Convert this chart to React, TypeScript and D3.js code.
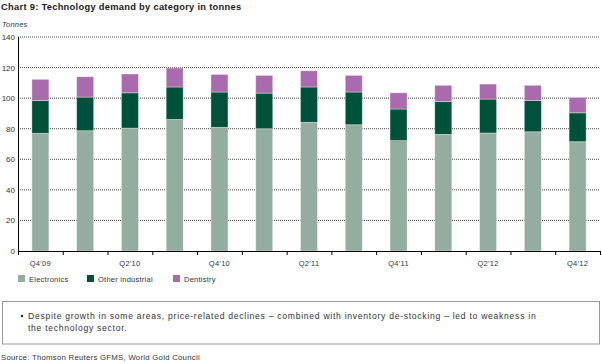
import * as d3 from "d3";

const quarters = ["Q4'09", "Q1'10", "Q2'10", "Q3'10", "Q4'10", "Q1'11", "Q2'11", "Q3'11", "Q4'11", "Q1'12", "Q2'12", "Q3'12", "Q4'12"];
const labelled = ["Q4'09", "Q2'10", "Q4'10", "Q2'11", "Q4'11", "Q2'12", "Q4'12"];
const electronics = [77.0, 78.7, 80.4, 86.1, 80.9, 80.0, 84.2, 82.6, 72.2, 76.3, 77.2, 78.0, 71.5];
const otherIndustrial = [21.5, 22.0, 23.1, 21.2, 23.1, 23.3, 23.1, 21.4, 20.7, 21.4, 22.2, 20.5, 18.9];
const dentistry = [13.8, 13.3, 12.3, 12.4, 11.5, 11.6, 10.6, 10.9, 10.6, 10.7, 9.8, 9.9, 10.1];
const seriesNames = ["Electronics", "Other industrial", "Dentistry"];
const colors = ["#93aea1", "#00513a", "#a96bad"];
const yTicks = [0, 20, 40, 60, 80, 100, 120, 140];

const FONT = "'Liberation Sans', Arial, sans-serif";

export default function App() {
  const W = 602, H = 364;
  const x = d3.scaleBand<string>().domain(quarters).range([18, 600]).paddingInner(0.62).paddingOuter(0.31);
  const y = d3.scaleLinear().domain([0, 140]).range([251, 37]);
  const rows = quarters.map((q, i) => ({ q, Electronics: electronics[i], "Other industrial": otherIndustrial[i], Dentistry: dentistry[i] }));
  const stacked = d3.stack<any>().keys(seriesNames)(rows);
  const step = x.step();
  const color = d3.scaleOrdinal<string, string>().domain(seriesNames).range(colors);
  const legendX = [18, 87, 173];

  return (
    <svg width={W} height={H} viewBox={`0 0 ${W} ${H}`} style={{ position: "absolute", left: 0, top: 0, fontFamily: FONT, background: "#fff" }}>
      <text x={1} y={10} fontSize="9.3" fontWeight="700" fill="#1a1a1a" letterSpacing="0.3">Chart 9: Technology demand by category in tonnes</text>
      <text x={2} y={27} fontSize="7.5" fontStyle="italic" fill="#333" letterSpacing="0.2">Tonnes</text>

      {yTicks.filter(t => t > 0).map(t => (
        <line key={t} x1={18} x2={600} y1={y(t)} y2={y(t)} stroke="#444" strokeWidth="1" strokeDasharray="1 1" />
      ))}
      {yTicks.map(t => (
        <text key={t} x={15} y={y(t) + 3} textAnchor="end" fontSize="8" fill="#333">{t}</text>
      ))}

      {stacked.map(s => (
        <g key={s.key} fill={color(s.key)}>
          {s.map((d, i) => (
            <rect key={i} x={x(quarters[i])!} width={x.bandwidth()} y={y(d[1])} height={y(d[0]) - y(d[1])}
              stroke="#fff" strokeOpacity="0.45" strokeWidth="0.8" />
          ))}
        </g>
      ))}

      <line x1={18.5} x2={18.5} y1={37} y2={255} stroke="#000" strokeWidth="1" />
      <line x1={18} x2={600} y1={251.5} y2={251.5} stroke="#000" strokeWidth="1" />
      {d3.range(quarters.length + 1).map(k => (
        <line key={k} x1={18.5 + k * step} x2={18.5 + k * step} y1={251} y2={255} stroke="#000" strokeWidth="1" />
      ))}
      {labelled.map(q => (
        <text key={q} x={x(q)! + x.bandwidth() / 2} y={266} textAnchor="middle" fontSize="7.5" fill="#2d3648" letterSpacing="0.3">{q}</text>
      ))}

      {seriesNames.map((n, i) => (
        <g key={n}>
          <rect x={legendX[i]} y={275} width={7} height={7} fill={colors[i]} />
          <text x={legendX[i] + 11} y={281.5} fontSize="7.5" fill="#333" letterSpacing="0.25">{n}</text>
        </g>
      ))}

      <rect x={2.5} y={301.5} width={597} height={42.5} fill="none" stroke="#999" strokeWidth="1" />
      <circle cx={22} cy={316} r={1.3} fill="#333" />
      <text x={28} y={319} fontSize="8.6" fill="#333" letterSpacing="0.72">Despite growth in some areas, price-related declines – combined with inventory de-stocking – led to weakness in</text>
      <text x={28} y={330.5} fontSize="8.6" fill="#333" letterSpacing="0.72">the technology sector.</text>
      <text x={1} y={360} fontSize="7.8" fill="#333" letterSpacing="0.25">Source: Thomson Reuters GFMS, World Gold Council</text>
    </svg>
  );
}
